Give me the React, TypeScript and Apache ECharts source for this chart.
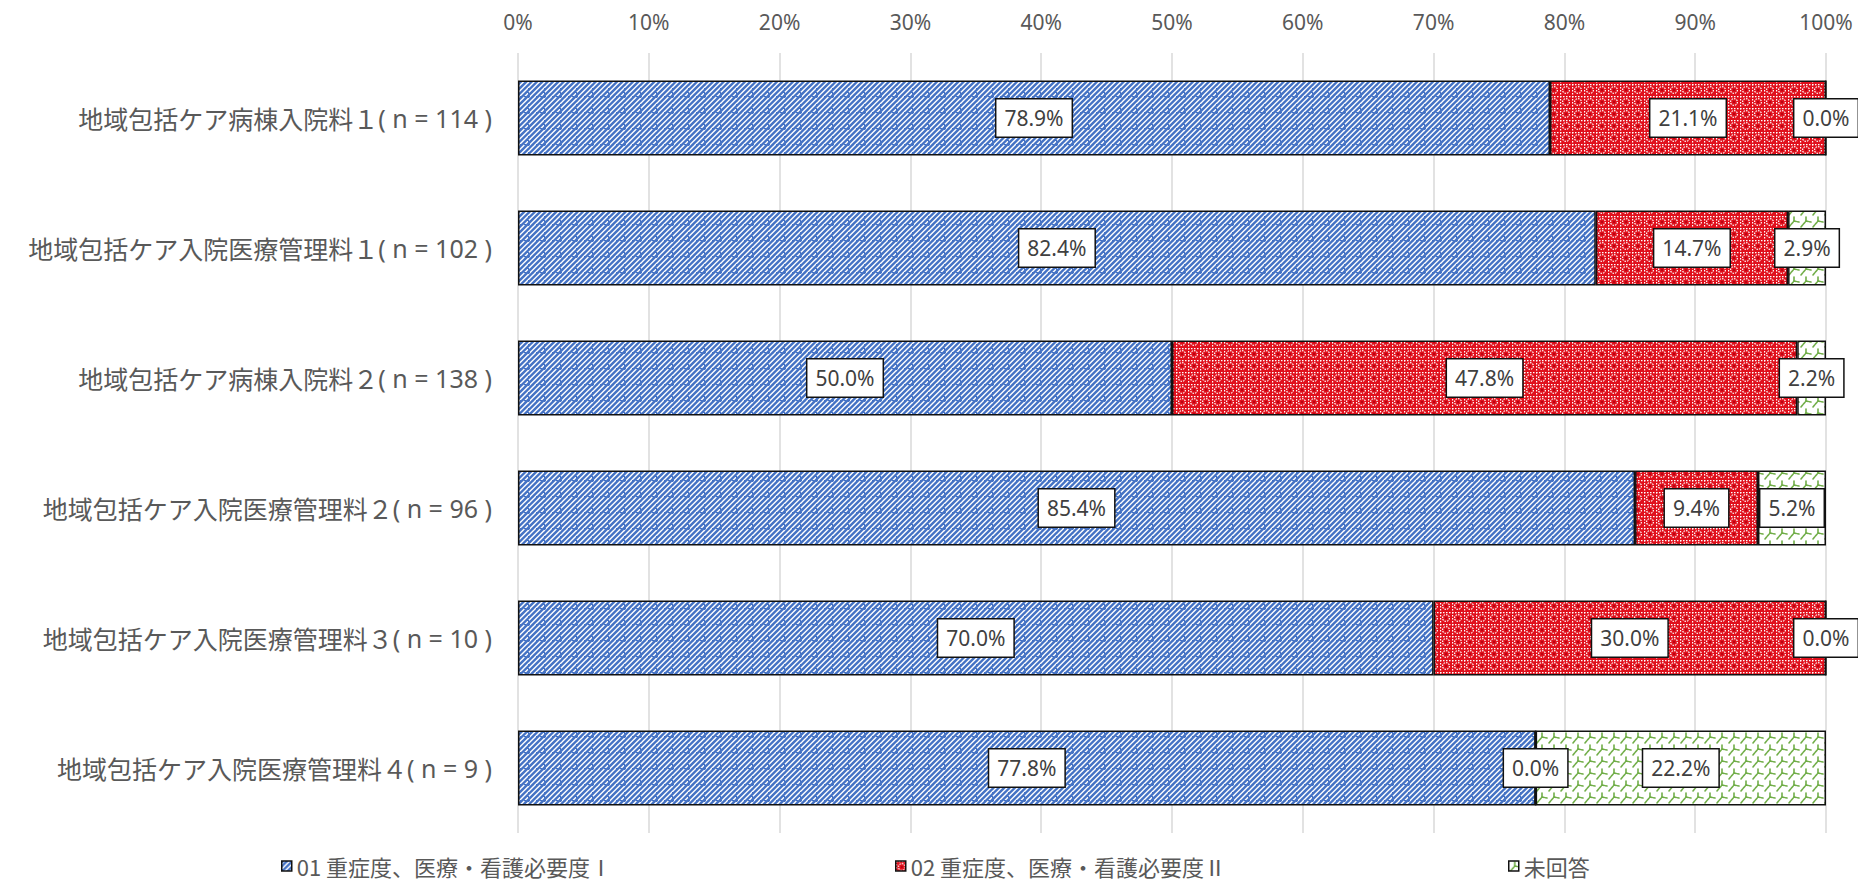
import React, { useEffect, useRef } from "react";
import * as echarts from "echarts";

const categories = [
  "地域包括ケア病棟入院料１( n = 114 )",
  "地域包括ケア入院医療管理料１( n = 102 )",
  "地域包括ケア病棟入院料２( n = 138 )",
  "地域包括ケア入院医療管理料２( n = 96 )",
  "地域包括ケア入院医療管理料３( n = 10 )",
  "地域包括ケア入院医療管理料４( n = 9 )",
];
const seriesNames = [
  "01 重症度、医療・看護必要度Ⅰ",
  "02 重症度、医療・看護必要度Ⅱ",
  "未回答",
];
const valuesI = [78.9, 82.4, 50.0, 85.4, 70.0, 77.8];
const valuesII = [21.1, 14.7, 47.8, 9.4, 30.0, 0.0];
const valuesNone = [0.0, 2.9, 2.2, 5.2, 0.0, 22.2];
const tickValues = [0, 10, 20, 30, 40, 50, 60, 70, 80, 90, 100];

const svgUrl = (s: string) => "data:image/svg+xml;charset=utf-8," + encodeURIComponent(s);

const bluePattern = svgUrl(
  `<svg xmlns='http://www.w3.org/2000/svg' width='16' height='16'>` +
    `<rect width='16' height='16' fill='#ffffff'/>` +
    `<g stroke='#4472C4' stroke-width='2.4'>` +
    `<line x1='-4' y1='4' x2='4' y2='-4'/>` +
    `<line x1='-4' y1='9.333' x2='9.333' y2='-4'/>` +
    `<line x1='-4' y1='14.667' x2='14.667' y2='-4'/>` +
    `<line x1='-4' y1='20' x2='20' y2='-4'/>` +
    `<line x1='1.333' y1='20' x2='20' y2='1.333'/>` +
    `<line x1='6.667' y1='20' x2='20' y2='6.667'/>` +
    `<line x1='12' y1='20' x2='20' y2='12'/>` +
    `</g>` +
    `<g stroke='#4472C4' stroke-width='1.2' stroke-dasharray='2,2'>` +
    `<line x1='0' y1='0.6' x2='16' y2='0.6'/>` +
    `<line x1='0.6' y1='0' x2='0.6' y2='16'/>` +
    `</g></svg>`
);

const redPattern = svgUrl(
  `<svg xmlns='http://www.w3.org/2000/svg' width='12' height='12'>` +
    `<rect width='12' height='12' fill='#E0101C'/>` +
    `<circle cx='6' cy='6' r='3.4' fill='none' stroke='#ffffff' stroke-width='1.2' stroke-dasharray='1.6,1'/>` +
    `<circle cx='6' cy='6' r='1' fill='#B00010'/>` +
    `<g stroke='#ffffff' stroke-width='1.2' stroke-dasharray='1.5,1.5'>` +
    `<line x1='0' y1='0.6' x2='12' y2='0.6'/>` +
    `<line x1='0.6' y1='0' x2='0.6' y2='12'/>` +
    `</g></svg>`
);

const greenPattern = svgUrl(
  `<svg xmlns='http://www.w3.org/2000/svg' width='12' height='12'>` +
    `<rect width='12' height='12' fill='#ffffff'/>` +
    `<g stroke='#70AD47' stroke-width='1.6' fill='none' stroke-linecap='round'>` +
    `<path d='M1,11 L6,5 L11,6' stroke-dasharray='2.5,1.3'/>` +
    `<path d='M6,5 L6,1'/>` +
    `</g></svg>`
);

const makePattern = (url: string, size: number) => ({
  image: url,
  repeat: "repeat" as const,
  imageWidth: size,
  imageHeight: size,
});

export default function App() {
  const ref = useRef<HTMLDivElement>(null);

  useEffect(() => {
    if (!ref.current) return;
    const chart = echarts.init(ref.current, undefined, { renderer: "svg" });

    const fills = [makePattern(bluePattern, 16), makePattern(redPattern, 12), makePattern(greenPattern, 12)];
    const data = [valuesI, valuesII, valuesNone];

    const series = seriesNames.map((name, i) => ({
      name,
      type: "bar",
      stack: "total",
      barWidth: 75,
      data: data[i],
      itemStyle: {
        color: fills[i] as any,
        borderColor: "#111111",
        borderWidth: 1.5,
      },
      label: {
        show: true,
        position: "inside",
        formatter: (p: any) => Number(p.value).toFixed(1) + "%",
        fontFamily: "Noto Sans",
        fontSize: 21,
        lineHeight: 21,
        color: "#404040",
        backgroundColor: "#ffffff",
        borderColor: "#111111",
        borderWidth: 1.5,
        padding: [8, 8],
      },
    }));

    const legendLefts = [276, 890, 1503];
    const legends = seriesNames.map((name, i) => ({
      data: [name],
      left: legendLefts[i],
      top: 848,
      padding: 5,
      icon: "rect",
      itemWidth: 10,
      itemHeight: 10,
      itemGap: 0,
      itemStyle: { borderColor: "#111111", borderWidth: 1.5 },
      textStyle: {
        fontFamily: "Noto Sans CJK JP",
        fontSize: 22,
        lineHeight: 26,
        color: "#595959",
      },
      selectedMode: false,
    }));

    chart.setOption({
      animation: false,
      backgroundColor: "#ffffff",
      grid: { left: 518, right: 32, top: 53, bottom: 50 },
      legend: legends,
      xAxis: {
        type: "value",
        position: "top",
        min: tickValues[0],
        max: tickValues[tickValues.length - 1],
        interval: tickValues[1] - tickValues[0],
        axisLine: { show: false },
        axisTick: { show: false },
        axisLabel: {
          formatter: "{value}%",
          fontFamily: "Noto Sans",
          fontSize: 21,
          color: "#595959",
          margin: 21,
        },
        splitLine: { show: true, lineStyle: { color: "#D9D9D9", width: 1.5 } },
      },
      yAxis: {
        type: "category",
        inverse: true,
        data: categories,
        axisLine: { show: false },
        axisTick: { show: false },
        axisLabel: {
          margin: 26,
          formatter: (v: string) => {
            const k = v.indexOf("(");
            return "{j|" + v.slice(0, k) + "}{l|" + v.slice(k) + "}";
          },
          rich: {
            j: { fontFamily: "Noto Sans CJK JP", fontSize: 25, color: "#595959" },
            l: { fontFamily: "Noto Sans", fontSize: 25, color: "#595959" },
          },
        },
      },
      series,
    } as any);

    return () => chart.dispose();
  }, []);

  return (
    <div
      ref={ref}
      style={{ position: "fixed", left: 0, top: 0, width: 1858, height: 883 }}
    />
  );
}
